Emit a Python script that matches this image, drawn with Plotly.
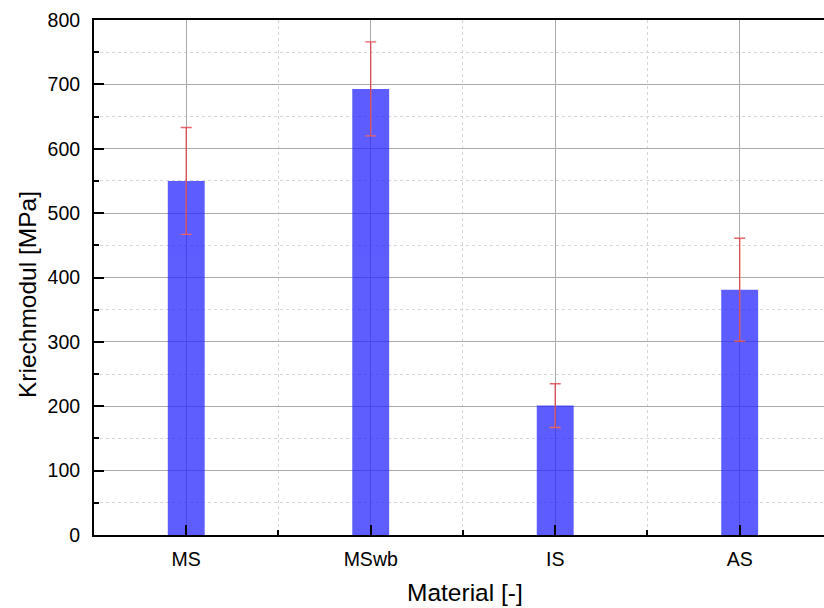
import plotly.graph_objects as go

# Creep modulus per material, mean and standard deviation
materials = ["MS", "MSwb", "IS", "AS"]
kriechmodul = [550, 693, 201, 381]
std_dev = [83, 73, 34, 80]

positions = list(range(len(materials)))

fig = go.Figure()
fig.add_trace(go.Bar(
    x=positions,
    y=kriechmodul,
    width=0.2,
    marker=dict(color="rgb(40,40,255)", line=dict(width=0)),
    opacity=0.75,
    error_y=dict(type="data", array=std_dev, visible=True,
                 color="rgb(225,50,60)", thickness=1.4, width=5.5),
))

font_family = "Liberation Sans, Arial, sans-serif"

fig.update_layout(
    width=824, height=608,
    margin=dict(l=94, r=0, t=20, b=73),
    paper_bgcolor="white", plot_bgcolor="white",
    showlegend=False,
    font=dict(family=font_family, color="black"),
    xaxis=dict(
        range=[-0.5, 3.457],
        tickmode="array", tickvals=positions, ticktext=materials,
        tickfont=dict(size=19.5),
        ticks="inside", ticklen=10, tickwidth=2, tickcolor="black",
        ticklabelstandoff=6,
        showline=True, linewidth=2, linecolor="black", mirror=True,
        showgrid=True, gridcolor="rgb(170,170,170)", gridwidth=1,
        minor=dict(tick0=0.5, dtick=1, ticks="inside", ticklen=5, tickwidth=2,
                   tickcolor="black", showgrid=True,
                   gridcolor="rgb(215,215,215)", griddash="dot", gridwidth=1),
        zeroline=False,
    ),
    yaxis=dict(
        range=[0, 800],
        tickmode="linear", tick0=0, dtick=100,
        tickfont=dict(size=19.5),
        ticks="inside", ticklen=10, tickwidth=2, tickcolor="black",
        ticklabelstandoff=8,
        showline=True, linewidth=2, linecolor="black", mirror=False,
        showgrid=True, gridcolor="rgb(170,170,170)", gridwidth=1,
        minor=dict(dtick=50, ticks="inside", ticklen=5, tickwidth=2,
                   tickcolor="black", showgrid=True,
                   gridcolor="rgb(215,215,215)", griddash="dot", gridwidth=1),
        zeroline=False,
    ),
    annotations=[
        dict(text="Kriechmodul [MPa]", textangle=-90, showarrow=False,
             xref="paper", yref="paper", x=0, y=0.466,
             xanchor="center", yanchor="middle", xshift=-67,
             font=dict(size=24.5)),
        dict(text="Material [-]", showarrow=False,
             xref="paper", yref="paper", x=0.5, y=0,
             xanchor="center", yanchor="middle", xshift=6, yshift=-57,
             font=dict(size=24.5)),
    ],
)

fig.write_html("out.html")
